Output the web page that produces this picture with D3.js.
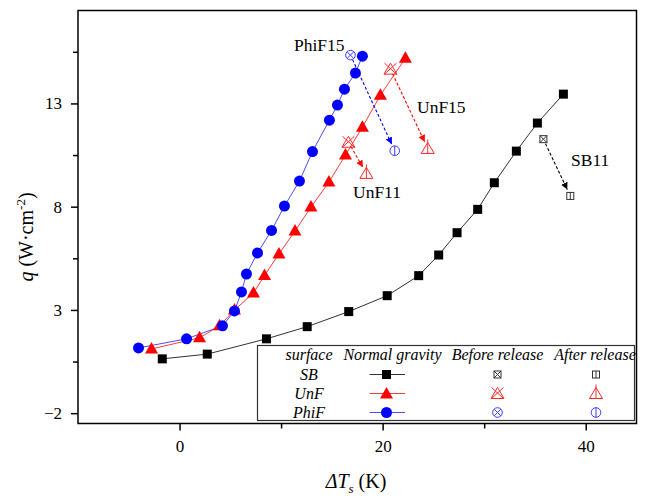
<!DOCTYPE html>
<html><head><meta charset="utf-8">
<script src="https://cdn.jsdelivr.net/npm/d3@7"></script>
<style>body{margin:0;background:#fff}svg{display:block}svg text{font-family:"Liberation Serif","Times New Roman",Times,"DejaVu Serif",serif !important}</style>
</head><body>
<svg id="c" width="645" height="499" font-family="Liberation Serif, Times New Roman, serif"></svg>
<script>
// ---- data ----
const sbX = [-1.70, 2.73, 8.56, 12.57, 16.66, 20.45, 23.55, 25.52, 27.33, 29.36, 31.00, 33.17, 35.24, 37.80];
const sbY = [0.63, 0.86, 1.60, 2.19, 2.92, 3.69, 4.66, 5.66, 6.74, 7.87, 9.16, 10.69, 12.05, 13.45];
const unfX = [-2.76, 1.97, 3.94, 5.41, 7.28, 8.37, 9.79, 11.37, 12.94, 14.71, 16.34, 18.01, 19.78, 22.24];
const unfY = [1.11, 1.65, 2.23, 3.00, 3.82, 4.67, 5.71, 6.82, 7.98, 9.19, 10.50, 11.85, 13.40, 15.19];
const phiX = [-4.04, 0.69, 4.23, 5.41, 6.10, 6.59, 7.68, 9.06, 10.33, 11.81, 13.09, 14.76, 15.55, 16.24, 17.32, 18.01];
const phiY = [1.16, 1.60, 2.23, 2.95, 3.87, 4.74, 5.76, 6.85, 8.03, 9.24, 10.67, 12.19, 12.92, 13.69, 14.47, 15.29];
// release experiments: label, surface, before (x,y), after (x,y)
const relLabel = ["SB11", "UnF11", "UnF15", "PhiF15"];
const relSurface = ["SB", "UnF", "UnF", "PhiF"];
const relBeforeX = [35.83, 16.63, 20.77, 16.83];
const relBeforeY = [11.27, 11.12, 14.66, 15.34];
const relAfterX = [38.48, 18.40, 24.44, 21.19];
const relAfterY = [8.52, 9.61, 10.82, 10.71];
const xTicks = [0, 20, 40], xMinor = [10, 30];
const yTicks = [-2, 3, 8, 13], yMinor = [0.5, 5.5, 10.5, 15.5];
const legendRows = ["SB", "UnF", "PhiF"];
const legendCols = ["surface", "Normal gravity", "Before release", "After release"];

// ---- styles ----
const FONT = "Liberation Serif, Times New Roman, Times, serif";
const col = {SB: "#000000", UnF: "#ff0000", PhiF: "#0000ff"};
const lineCol = {SB: "#333333", UnF: "#ff3b3b", PhiF: "#4d4dff"};
const thinCol = {SB: "#333333", UnF: "#ff2a2a", PhiF: "#3a3aff"};
const shape = {SB: "square", UnF: "triangle", PhiF: "circle"};

const svg = d3.select("#c");
const x = d3.scaleLinear([-10, 45], [78, 636.5]);
const y = d3.scaleLinear([-2.5, 17.5], [423.5, 10.5]);

// frame
svg.append("rect").attr("x", 78).attr("y", 10.5).attr("width", 558.5).attr("height", 413)
  .attr("fill", "none").attr("stroke", "#000").attr("stroke-width", 1.5);

function styleAxis(g){ g.attr("font-family", FONT); g.select(".domain").remove(); g.selectAll("line").attr("stroke","#000").attr("stroke-width",1.5);
  g.selectAll("text").attr("font-size",17).attr("fill","#000").attr("font-family",FONT); }
svg.append("g").attr("transform","translate(0,423.5)")
  .call(d3.axisBottom(x).tickValues(xTicks).tickSize(7).tickPadding(9).tickFormat(d3.format("d"))).call(styleAxis);
svg.append("g").attr("transform","translate(0,423.5)")
  .call(d3.axisBottom(x).tickValues(xMinor).tickSize(5).tickFormat("")).call(styleAxis);
svg.append("g").attr("transform","translate(78,0)")
  .call(d3.axisLeft(y).tickValues(yTicks).tickSize(7).tickPadding(9).tickFormat(d3.format("d"))).call(styleAxis);
svg.append("g").attr("transform","translate(78,0)")
  .call(d3.axisLeft(y).tickValues(yMinor).tickSize(5).tickFormat("")).call(styleAxis);

// axis titles
const yl = svg.append("text").attr("transform","translate(33,237) rotate(-90)").attr("text-anchor","middle")
  .attr("font-size",20).attr("fill","#000");
yl.append("tspan").attr("font-style","italic").text("q");
yl.append("tspan").text(" (W·cm");
yl.append("tspan").attr("font-size",13).attr("dy",-8).text("-2");
yl.append("tspan").attr("dy",8).text(")");
const xl = svg.append("text").attr("x",356).attr("y",488).attr("text-anchor","middle").attr("font-size",20).attr("fill","#000");
xl.append("tspan").attr("font-style","italic").text("ΔT");
xl.append("tspan").attr("font-style","italic").attr("font-size",13).attr("dy",5).text("s");
xl.append("tspan").attr("dy",-5).text(" (K)");

// marker drawing
function marker(g, kind, cx, cy, c){
  const m = g.append("g").attr("transform",`translate(${cx},${cy})`);
  if (kind === "square") m.append("rect").attr("x",-4.5).attr("y",-4.5).attr("width",9).attr("height",9).attr("fill",c);
  else if (kind === "circle") m.append("circle").attr("r",5.5).attr("fill",c);
  else if (kind === "triangle") m.append("path").attr("d","M0,-7L6.5,4.5L-6.5,4.5Z").attr("fill",c);
  else {
    const base = kind.slice(0,-1), mod = kind.slice(-1);
    const s = {fill:"none", stroke:c, "stroke-width":1};
    const add = (t,a)=>{const e=m.append(t); Object.entries(Object.assign({},s,a)).forEach(([k,v])=>e.attr(k,v)); return e;};
    if (base === "square"){
      add("rect",{x:-3.5,y:-3.5,width:7,height:7});
      if (mod==="X") add("path",{d:"M-3.5,-3.5L3.5,3.5M3.5,-3.5L-3.5,3.5"});
      else add("path",{d:"M0,-3.5L0,3.5"});
    } else if (base === "circle"){
      add("circle",{r:4.8});
      if (mod==="X") add("path",{d:"M-3.4,-3.4L3.4,3.4M3.4,-3.4L-3.4,3.4"});
      else add("path",{d:"M0,-4.8L0,4.8"});
    } else {
      add("path",{d:"M0,-6L6.5,5L-6.5,5Z"});
      if (mod==="X") add("path",{d:"M-6,-6L6,5M6,-6L-6,5"});
      else add("path",{d:"M0,-9L0,5"});
    }
  }
}

// series lines and markers
const series = [["SB", sbX, sbY], ["UnF", unfX, unfY], ["PhiF", phiX, phiY]];
const line = d3.line().x(d=>x(d[0])).y(d=>y(d[1]));
series.forEach(([k, xs, ys])=>{
  const pts = xs.map((v,i)=>[v, ys[i]]);
  svg.append("path").attr("d", line(pts)).attr("fill","none").attr("stroke", lineCol[k]).attr("stroke-width",1);
});
series.forEach(([k, xs, ys])=>{
  xs.forEach((v,i)=> marker(svg, shape[k], x(v), y(ys[i]), col[k]));
});

// release arrows
const defs = svg.append("defs");
Object.keys(col).forEach(k=>{
  defs.append("marker").attr("id","ah"+k).attr("viewBox","0 0 10 10").attr("refX",10).attr("refY",5)
    .attr("markerWidth",7).attr("markerHeight",7).attr("markerUnits","userSpaceOnUse").attr("orient","auto")
    .append("path").attr("d","M0,0L10,5L0,10Z").attr("fill",col[k]);
});
relLabel.forEach((lab,i)=>{
  const k = relSurface[i];
  const x0=x(relBeforeX[i]), y0=y(relBeforeY[i]), x1=x(relAfterX[i]), y1=y(relAfterY[i]);
  const dx=x1-x0, dy=y1-y0, L=Math.hypot(dx,dy);
  const s0=5, s1=7;
  svg.append("line").attr("x1",x0+dx*s0/L).attr("y1",y0+dy*s0/L).attr("x2",x1-dx*s1/L).attr("y2",y1-dy*s1/L)
    .attr("stroke",col[k]).attr("stroke-width",1.1).attr("stroke-dasharray","3,2").attr("marker-end",`url(#ah${k})`);
  marker(svg, shape[k]+"X", x0, y0, thinCol[k]);
  marker(svg, shape[k]+"V", x1, y1, thinCol[k]);
});

// release labels
const labPos = {SB11:[571,166], UnF11:[353,198], UnF15:[417,113], PhiF15:[294,51]};
relLabel.forEach(l=> svg.append("text").attr("x",labPos[l][0]).attr("y",labPos[l][1]).attr("font-size",17.5).attr("fill","#000").text(l));

// legend
const lg = svg.append("g");
lg.append("rect").attr("x",257.5).attr("y",345.5).attr("width",377).attr("height",75)
  .attr("fill","#fff").attr("stroke","#333").attr("stroke-width",1.2);
const colX = [309, 392.5, 497.5, 595];
legendCols.forEach((t,i)=> lg.append("text").attr("x",colX[i]).attr("y",360).attr("text-anchor","middle")
  .attr("font-size",16).attr("font-style","italic").attr("fill","#000").text(t));
const rowY = [374.5, 393.5, 412.5];
legendRows.forEach((k,j)=>{
  lg.append("text").attr("x",colX[0]).attr("y",rowY[j]+5).attr("text-anchor","middle").attr("font-size",16)
    .attr("font-style","italic").attr("fill","#000").text(k);
  lg.append("line").attr("x1",369.5).attr("x2",405).attr("y1",rowY[j]).attr("y2",rowY[j]).attr("stroke",lineCol[k]).attr("stroke-width",1);
  marker(lg, shape[k], 386.5, rowY[j] + (k==="UnF"?0.5:0), col[k]);
  marker(lg, shape[k]+"X", 497.5, rowY[j], thinCol[k]);
  marker(lg, shape[k]+"V", 596, rowY[j], thinCol[k]);
});
</script>
</body></html>
